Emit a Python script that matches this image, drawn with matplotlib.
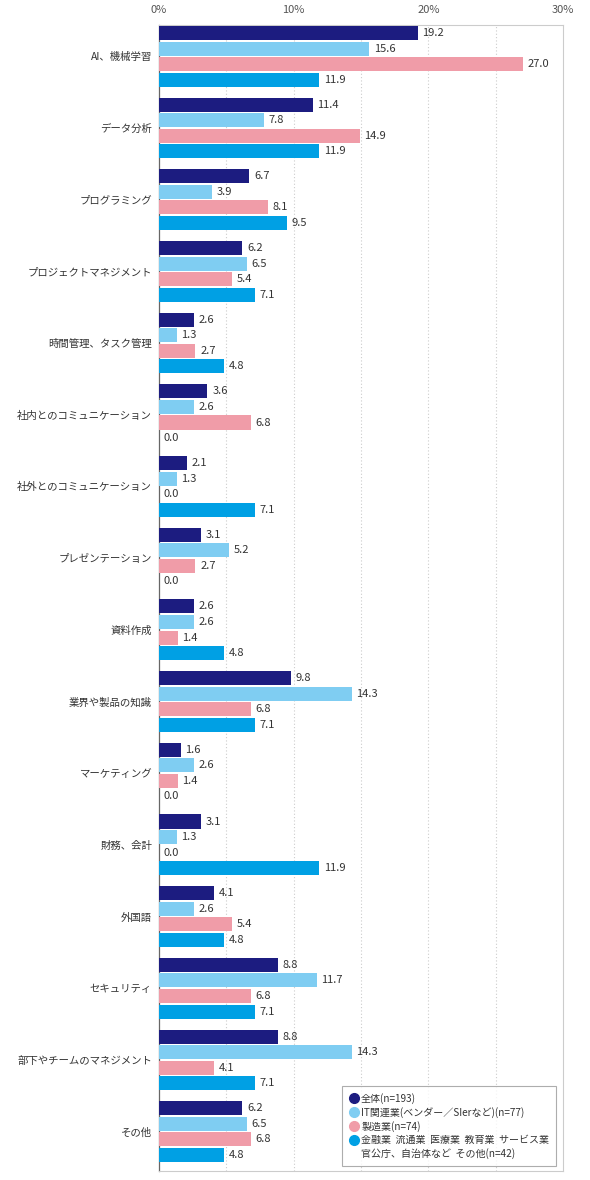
import matplotlib
matplotlib.use("Agg")
import matplotlib.pyplot as plt
import numpy as np
from matplotlib.lines import Line2D

plt.rcParams['font.family'] = ['Noto Sans CJK JP', 'DejaVu Sans']

categories = ["AI、機械学習", "データ分析", "プログラミング", "プロジェクトマネジメント",
              "時間管理、タスク管理", "社内とのコミュニケーション", "社外とのコミュニケーション",
              "プレゼンテーション", "資料作成", "業界や製品の知識", "マーケティング",
              "財務、会計", "外国語", "セキュリティ", "部下やチームのマネジメント", "その他"]

s_all = [19.2, 11.4, 6.7, 6.2, 2.6, 3.6, 2.1, 3.1, 2.6, 9.8, 1.6, 3.1, 4.1, 8.8, 8.8, 6.2]
s_it = [15.6, 7.8, 3.9, 6.5, 1.3, 2.6, 1.3, 5.2, 2.6, 14.3, 2.6, 1.3, 2.6, 11.7, 14.3, 6.5]
s_mfg = [27.0, 14.9, 8.1, 5.4, 2.7, 6.8, 0.0, 2.7, 1.4, 6.8, 1.4, 0.0, 5.4, 6.8, 4.1, 6.8]
s_other = [11.9, 11.9, 9.5, 7.1, 4.8, 0.0, 7.1, 0.0, 4.8, 7.1, 0.0, 11.9, 4.8, 7.1, 7.1, 4.8]

series_labels = ["全体(n=193)", "IT関連業(ベンダー／SIerなど)(n=77)", "製造業(n=74)",
                 "金融業  流通業  医療業  教育業  サービス業",
                 "官公庁、自治体など  その他(n=42)"]
colors = ["#1c1c80", "#7fcdf2", "#f09ca8", "#00a0e4"]
series = [s_all, s_it, s_mfg, s_other]

fig = plt.figure(figsize=(5.9, 11.8), dpi=100)
ax = fig.add_axes([159/590, 1 - 1171/1180, (563-159)/590, (1171-25)/1180])

n = len(categories)
pitch = 0.217
height = 0.196
y0 = np.arange(n)
for k, (vals, col) in enumerate(zip(series, colors)):
    ys = y0 + (k - 1.5) * pitch
    ax.barh(ys, vals, height=height, color=col, zorder=3)
    for y, v in zip(ys, vals):
        ax.text(v + 0.35, y, f"{v:.1f}", va='center', ha='left', fontsize=8, color='#333333')

ax.set_xlim(0, 30)
ax.set_ylim(n - 1 + 0.55, -0.437)
ax.set_yticks(y0)
ax.set_yticklabels(categories, fontsize=7.5, color='#333333')
ax.tick_params(axis='y', length=0, pad=5)
ax.xaxis.tick_top()
ax.set_xticks([0, 10, 20, 30])
ax.set_xticklabels(["0%", "10%", "20%", "30%"], fontsize=8, color='#555555')
ax.tick_params(axis='x', length=0, pad=7)
for xv in [5, 10, 15, 20, 25]:
    ax.axvline(xv, color='#cccccc', linestyle=(0, (1, 2)), linewidth=0.8, zorder=1)

for side in ['top', 'right', 'bottom']:
    ax.spines[side].set_color('#cccccc')
    ax.spines[side].set_linewidth(0.8)
ax.spines['left'].set_color('#666666')
ax.spines['left'].set_linewidth(0.9)

handles = [Line2D([0], [0], marker='o', linestyle='none', markersize=7,
                  markerfacecolor=c, markeredgecolor=c) for c in colors]
handles.append(Line2D([0], [0], marker='o', linestyle='none', markersize=7,
                      markerfacecolor='none', markeredgecolor='none'))
leg = ax.legend(handles, series_labels, loc='lower right', bbox_to_anchor=(0.983, 0.004),
                bbox_transform=ax.transAxes,
                fontsize=7.2, frameon=True, fancybox=False, edgecolor='#999999',
                handletextpad=0.2, handlelength=1.0, labelspacing=0.32, borderpad=0.7,
                borderaxespad=0.0)
leg.get_frame().set_linewidth(0.8)
for t in leg.get_texts():
    t.set_color('#333333')

fig.savefig("out.png", dpi=100)
